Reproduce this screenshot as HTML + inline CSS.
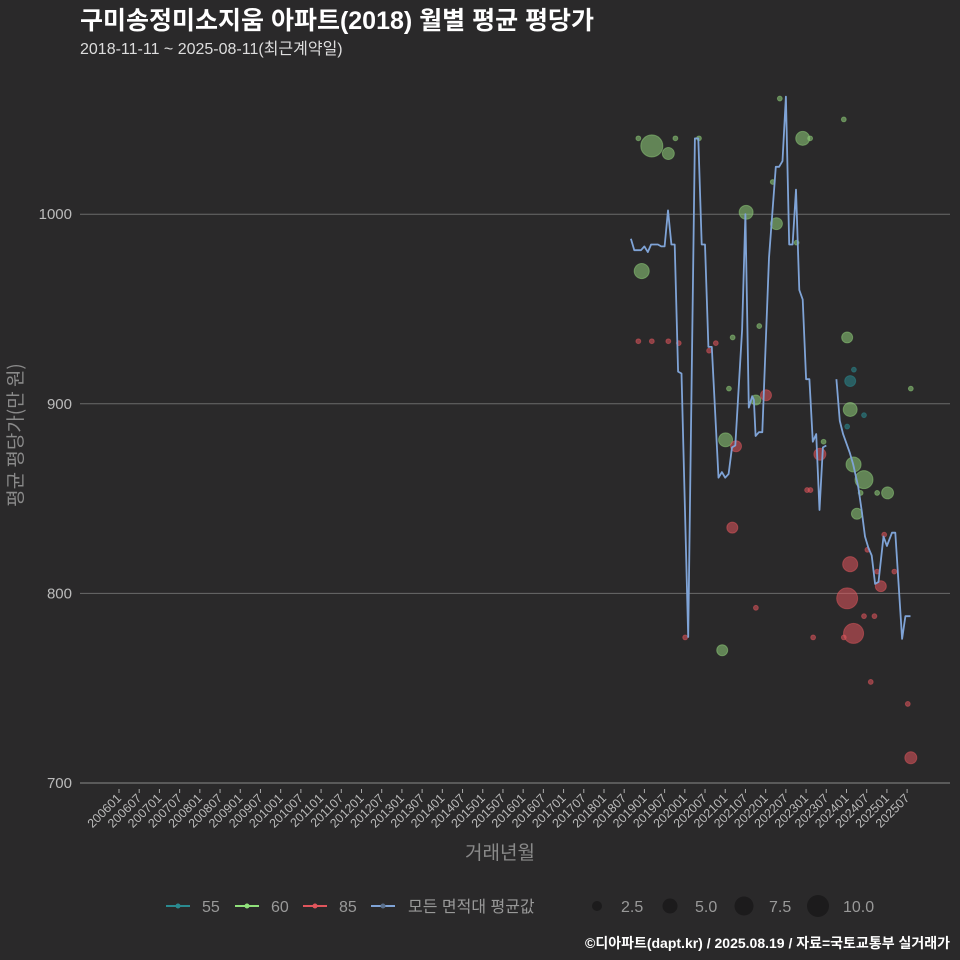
<!DOCTYPE html>
<html><head><meta charset="utf-8">
<style>
html,body{margin:0;padding:0;background:#2a292a;}
svg{display:block;font-family:"Liberation Sans","Noto Sans CJK KR",sans-serif;}
</style></head>
<body>
<svg id="chart" width="960" height="960" viewBox="0 0 960 960">
<rect width="960" height="960" fill="#2a292a"/>
<text x="80" y="29" fill="#ffffff" font-size="25" font-weight="bold">구미송정미소지움 아파트(2018) 월별 평균 평당가</text>
<text x="80" y="54" fill="#dddddd" font-size="16">2018-11-11 ~ 2025-08-11(최근계약일)</text>
<g id="grid"></g>
<g id="yticks"></g>
<g id="xticks"></g>
<g id="bubbles"></g>
<g id="line"></g>
<text transform="translate(22,435) rotate(-90)" text-anchor="middle" fill="#8a8a8a" font-size="19" style="font-family:'Noto Sans CJK KR','Liberation Sans',sans-serif">평균 평당가(만 원)</text>
<text x="500" y="859" text-anchor="middle" fill="#8a8a8a" font-size="19">거래년월</text>
<g>
<g><line x1="166" y1="906" x2="190" y2="906" stroke="#2a8a90" stroke-width="2"/><circle cx="178" cy="906" r="2.5" fill="#2a8a90"/><text x="202" y="912" fill="#999" font-size="16">55</text></g>
<g><line x1="235" y1="906" x2="259" y2="906" stroke="#8fe07a" stroke-width="2"/><circle cx="247" cy="906" r="2.5" fill="#8fe07a"/><text x="271" y="912" fill="#999" font-size="16">60</text></g>
<g><line x1="303" y1="906" x2="327" y2="906" stroke="#e0555c" stroke-width="2"/><circle cx="315" cy="906" r="2.5" fill="#e0555c"/><text x="339" y="912" fill="#999" font-size="16">85</text></g>
<g><line x1="371" y1="906" x2="395" y2="906" stroke="#7fa3d6" stroke-width="2"/><circle cx="383" cy="906" r="2.5" fill="#5a6f8c"/><text x="408" y="912" fill="#999" font-size="16">모든 면적대 평균값</text></g>
<g>
<circle cx="597" cy="906" r="5" fill="#1c1b1c"/><text x="621" y="912" fill="#999" font-size="16">2.5</text>
<circle cx="670" cy="906" r="7.5" fill="#1c1b1c"/><text x="695" y="912" fill="#999" font-size="16">5.0</text>
<circle cx="744" cy="906" r="9.5" fill="#1c1b1c"/><text x="769" y="912" fill="#999" font-size="16">7.5</text>
<circle cx="818" cy="906" r="11" fill="#1c1b1c"/><text x="843" y="912" fill="#999" font-size="16">10.0</text>
</g>
</g>
<text x="950" y="948" text-anchor="end" fill="#ffffff" font-size="14" font-weight="bold">©디아파트(dapt.kr) / 2025.08.19 / 자료=국토교통부 실거래가</text>
</svg>
<script>
// months counted from 2006-01 (index 0)
const yTicks = [700, 800, 900, 1000];
const lineMonths1 = [152,153,155,156,157,158,160,161,162,163,164,165,166,167,169,171,172,173,174,175,176,178,179,180,181,182,183,185,186,187,188,188.5,189,190,191,193,195,196,197,198,199,200,201,202,203,204,205,206,207,208,209,210];
const lineValues1 = [987,981,981,983,980,984,984,983,983,1002,984,984,917,916,777,1040,1040,984,984,930,930,861,864,861,863,877,878,939,1000,898,904,902,883,885,885,977,1025,1025,1028,1062,984,984,1013,960,955,913,913,880,884,844,877,878];
const lineMonths2 = [213,214,215,217,218,219.5,220.5,221.5,222.5,223.5,224.5,225.5,227,228,229.5,230.5,232.5,233.5,235];
const lineValues2 = [913,891,884,874,868,856,844,830,824,820,805,806,830,825,832,832,776,788,788];
// area 60
const months60 = [154.2,158.2,163.1,165.2,172.2,196.2,215.2,203,205.2,194.1,186.2,195.2,201.2,155.2,190.1,182.2,216.2,181.1,235.1,189.1,217.1,180.1,209.2,218.1,221.2,220.2,225.1,228.2,219.1,179.1];
const values60 = [1040,1036,1032,1040,1040,1061,1050,1040,1040,1017,1001,995,985,970,941,935,935,908,908,902,897,881,880,868,860,853,853,853,842,770];
const sizes60 = [0.5,10.5,3.1,0.5,0.5,0.5,0.5,4.2,0.5,0.5,4.2,3.1,0.5,4.9,0.5,0.5,2.6,0.5,0.5,2.2,4.2,4.2,0.5,4.9,7,0.5,0.5,3.1,2.6,2.6];
// area 55
const months55 = [218.2,217.1,221.2,216.2];
const values55 = [918,912,894,888];
const sizes55 = [0.5,2.6,0.5,0.5];
// area 85
const months85 = [154.2,158.2,163.1,166.2,175.2,177.2,192.1,183.2,208.1,204.3,205.3,182.1,227.2,222.2,225.1,230.2,217.1,226.2,216.2,221.2,224.3,189.1,168.1,206.1,215.2,218.1,223.2,234.2,235.1];
const values85 = [933,933,933,932,928,932,904.5,877.6,873.4,854.5,854.5,834.7,831,823,811.5,811.5,815.4,803.8,797.4,788,788,792.4,776.8,776.8,776.8,778.9,753.3,741.7,713.3];
const sizes85 = [0.5,0.5,0.5,0.5,0.5,0.5,2.6,2.6,3.1,0.5,0.5,2.6,0.5,0.5,0.5,0.5,4.9,2.6,9.5,0.5,0.5,0.5,0.5,0.5,0.5,8.7,0.5,0.5,3.1];
</script>
<script>
const NS = "http://www.w3.org/2000/svg";
const xScale = m => 119 + m * 3.368;
const yScale = v => 783 - (v - 700) * 1.896;
function mk(tag, attrs, parent){const e=document.createElementNS(NS,tag);for(const k in attrs)e.setAttribute(k,attrs[k]);parent.appendChild(e);return e;}
const grid=document.getElementById('grid'), yt=document.getElementById('yticks'), xt=document.getElementById('xticks');
yTicks.forEach(v=>{
  const y=yScale(v);
  const l=mk('line',{x1:80,x2:950,y1:y,y2:y,stroke:v===700?'#8a8a8a':'#6a6a6a','stroke-width':1},grid);
  
  
  const t=mk('text',{x:72,y:y+5,'text-anchor':'end',fill:'#bbbbbb','font-size':15},yt);
  t.textContent=v;
  
  
});
for(let i=0;i<40;i++){
  const m=i*6, x=xScale(m);
  const yr=2006+Math.floor(m/12), mo=(m%12)+1;
  const lab=yr+(mo<10?'0':'')+mo;
  mk('line',{x1:x,x2:x,y1:789,y2:793,stroke:'#aaa','stroke-width':1},xt);
  const t=mk('text',{transform:`translate(${x+3},${799}) rotate(-45)`,'text-anchor':'end',fill:'#bbbbbb','font-size':12.5},xt);
  t.textContent=lab;
  
  
}
const bg=document.getElementById('bubbles');
function drawSeries(ms,vs,ss,color,name){
  ms.forEach((m,i)=>{
    const r=3.4*Math.sqrt(ss[i]);
    const e=mk('circle',{cx:xScale(m),cy:yScale(vs[i]),r:Math.max(r,2.3),fill:color,'fill-opacity':0.55,stroke:color,'stroke-opacity':0.5,'stroke-width':1},bg);
    
    
  });
}
drawSeries(months60,values60,sizes60,'#8fd07a','60');
drawSeries(months85,values85,sizes85,'#e0555c','85');
drawSeries(months55,values55,sizes55,'#2a8a90','55');
const lg=document.getElementById('line');
[[lineMonths1,lineValues1],[lineMonths2,lineValues2]].forEach(([ms,vs],k)=>{
  const d=ms.map((m,i)=>(i?'L':'M')+xScale(m).toFixed(1)+','+yScale(vs[i]).toFixed(1)).join(' ');
  const p=mk('path',{d:d,fill:'none',stroke:'#7fa3d6','stroke-width':1.8,'stroke-linejoin':'round'},lg);
  
  
});
</script>
</body></html>
